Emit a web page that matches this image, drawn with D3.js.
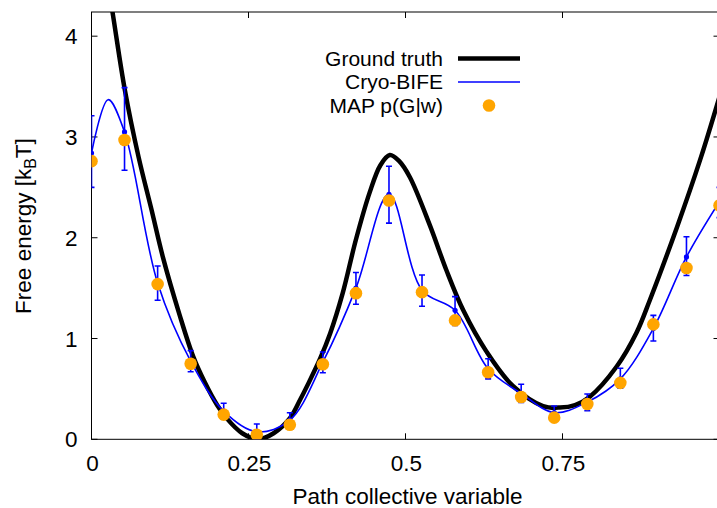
<!DOCTYPE html>
<html><head><meta charset="utf-8">
<script src="https://cdn.jsdelivr.net/npm/d3@7"></script>
<style>
body{margin:0;background:#fff;}
text{font-family:"Liberation Sans",Arial,Helvetica,sans-serif;}
</style></head>
<body><svg id="chart" width="717" height="508"></svg>
<script>
// ---- data ----
const cvX = [0, 0.0526, 0.1053, 0.1579, 0.2105, 0.2632, 0.3158, 0.3684, 0.4211, 0.4737,
             0.5263, 0.5789, 0.6316, 0.6842, 0.7368, 0.7895, 0.8421, 0.8947, 0.9474, 1.0];
const mapValues = [2.76, 2.97, 1.54, 0.75, 0.245, 0.045, 0.145, 0.745, 1.45, 2.37,
                   1.46, 1.18, 0.665, 0.42, 0.215, 0.35, 0.56, 1.14, 1.70, 2.32];
const bifeValues = [2.84, 3.05, 1.55, 0.775, 0.28, 0.075, 0.19, 0.765, 1.50, 2.43,
                    1.48, 1.28, 0.70, 0.455, 0.265, 0.37, 0.60, 1.10, 1.81, 2.36];
const bifeErrLow = [2.50, 2.67, 1.38, 0.67, 0.20, 0.0, 0.11, 0.66, 1.34, 2.145,
                    1.32, 1.13, 0.60, 0.365, 0.19, 0.284, 0.506, 0.976, 1.625, 2.20];
const bifeErrHigh = [3.21, 3.49, 1.72, 0.88, 0.357, 0.152, 0.264, 0.867, 1.655, 2.71,
                     1.63, 1.416, 0.80, 0.546, 0.33, 0.45, 0.705, 1.23, 2.01, 2.50];
// smooth Cryo-BIFE curve: the dots plus the overshoot peak
const bifeCurveX = [0, 0.0265, 0.0526, 0.1053, 0.1579, 0.2105, 0.2632, 0.3158, 0.3684, 0.4211, 0.4737,
                    0.5263, 0.5789, 0.6316, 0.6842, 0.7368, 0.7895, 0.8421, 0.8947, 0.9474, 1.0];
const bifeCurveY = [2.84, 3.37, 3.05, 1.55, 0.775, 0.28, 0.075, 0.19, 0.765, 1.50, 2.43,
                    1.48, 1.28, 0.70, 0.455, 0.265, 0.37, 0.60, 1.10, 1.81, 2.36];
const truthX = [0.02, 0.0334, 0.053, 0.075, 0.0955, 0.114, 0.14, 0.162, 0.18, 0.2, 0.215, 0.24, 0.265,
                0.29, 0.316, 0.332, 0.345, 0.364, 0.38, 0.40, 0.421, 0.443, 0.46, 0.475, 0.49, 0.507,
                0.539, 0.565, 0.592, 0.629, 0.671, 0.719, 0.746, 0.77, 0.793, 0.836, 0.868, 0.889,
                0.932, 0.969, 1.0];
const truthY = [4.75, 4.24, 3.47, 2.80, 2.28, 1.80, 1.24, 0.82, 0.57, 0.34, 0.21, 0.06, 0.0,
                0.06, 0.21, 0.39, 0.55, 0.80, 1.05, 1.45, 1.98, 2.45, 2.72, 2.82, 2.76, 2.60,
                2.12, 1.68, 1.28, 0.87, 0.53, 0.33, 0.315, 0.34, 0.42, 0.72, 1.06, 1.38,
                2.10, 2.77, 3.40];
const xTicks = [0, 0.25, 0.5, 0.75, 1];
const xTickLabels = ["0", "0.25", "0.5", "0.75", ""];
const yTicks = [0, 1, 2, 3, 4];
const legendLabels = ["Ground truth", "Cryo-BIFE", "MAP p(G|w)"];

// ---- layout ----
const svg = d3.select("#chart");
const L = 91.5, T = 12, R = 719.5, B = 439.3;
const x = d3.scaleLinear().domain([0, 1]).range([L, R]);
const y = d3.scaleLinear().domain([0, 4.24]).range([B, T]);
const FS = 22.5, LFS = 21;

svg.append("defs").append("clipPath").attr("id", "clip")
  .append("rect").attr("x", L).attr("y", T).attr("width", R - L).attr("height", B - T);

// ticks (inward, mirrored)
const tl = 6;
const g = svg.append("g");
xTicks.forEach((v, i) => {
  g.append("line").attr("x1", x(v)).attr("x2", x(v)).attr("y1", B).attr("y2", B - tl).attr("stroke", "#000").attr("stroke-width", 1);
  g.append("line").attr("x1", x(v)).attr("x2", x(v)).attr("y1", T).attr("y2", T + tl).attr("stroke", "#000").attr("stroke-width", 1);
  g.append("text").attr("x", x(v) + 1).attr("y", 471).attr("text-anchor", "middle")
    .attr("font-size", FS).text(xTickLabels[i]);
});
yTicks.forEach(v => {
  g.append("line").attr("x1", L).attr("x2", L + tl).attr("y1", y(v)).attr("y2", y(v)).attr("stroke", "#000");
  g.append("line").attr("x1", R).attr("x2", R - tl).attr("y1", y(v)).attr("y2", y(v)).attr("stroke", "#000");
  g.append("text").attr("x", 77.5).attr("y", y(v) + 8).attr("text-anchor", "end")
    .attr("font-size", FS).text(v);
});

// frame
svg.append("rect").attr("x", L).attr("y", T).attr("width", R - L).attr("height", B - T)
  .attr("fill", "none").attr("stroke", "#000").attr("stroke-width", 1);

// axis titles
svg.append("text").attr("x", 407.5).attr("y", 504).attr("text-anchor", "middle")
  .attr("font-size", FS).text("Path collective variable");
const yl = svg.append("text").attr("transform", "translate(30.5,226) rotate(-90)")
  .attr("text-anchor", "middle").attr("font-size", FS);
yl.append("tspan").text("Free energy [k");
yl.append("tspan").attr("font-size", 16).attr("dy", 5).text("B");
yl.append("tspan").attr("dy", -5).text("T]");

const plot = svg.append("g").attr("clip-path", "url(#clip)");

// ground truth
const truth = truthX.map((v, i) => [v, truthY[i]]);
plot.append("path").datum(truth)
  .attr("d", d3.line().x(d => x(d[0])).y(d => y(d[1])).curve(d3.curveCatmullRom.alpha(0.5)))
  .attr("fill", "none").attr("stroke", "#000").attr("stroke-width", 4.5);

// cryo-bife
const bife = bifeCurveX.map((v, i) => [v, bifeCurveY[i]]);
plot.append("path").datum(bife)
  .attr("d", d3.line().x(d => x(d[0])).y(d => y(d[1])).curve(d3.curveCatmullRom.alpha(0.5)))
  .attr("fill", "none").attr("stroke", "#0000ff").attr("stroke-width", 1.6);
cvX.forEach((v, i) => {
  const cx = x(v);
  plot.append("line").attr("x1", cx).attr("x2", cx).attr("y1", y(bifeErrLow[i])).attr("y2", y(bifeErrHigh[i]))
    .attr("stroke", "#0000ff").attr("stroke-width", 1.6);
  [bifeErrLow[i], bifeErrHigh[i]].forEach(e => {
    plot.append("line").attr("x1", cx - 3).attr("x2", cx + 3).attr("y1", y(e)).attr("y2", y(e))
      .attr("stroke", "#0000ff").attr("stroke-width", 1.6);
  });
  plot.append("circle").attr("cx", cx).attr("cy", y(bifeValues[i])).attr("r", 2.6).attr("fill", "#0000ff");
});

// MAP points
plot.selectAll("circle.map").data(cvX).enter().append("circle").attr("class", "map")
  .attr("cx", d => x(d)).attr("cy", (d, i) => y(mapValues[i])).attr("r", 6.3).attr("fill", "#ffa500");

// legend
const lg = svg.append("g");
const ly = [58.5, 82, 105.5];
legendLabels.forEach((t, i) => {
  lg.append("text").attr("x", 443).attr("y", ly[i] + 7.2).attr("text-anchor", "end")
    .attr("font-size", LFS).text(t);
});
lg.append("line").attr("x1", 458).attr("x2", 520).attr("y1", ly[0]).attr("y2", ly[0]).attr("stroke", "#000").attr("stroke-width", 4.5);
lg.append("line").attr("x1", 458).attr("x2", 520).attr("y1", ly[1]).attr("y2", ly[1]).attr("stroke", "#0000ff").attr("stroke-width", 1.6);
lg.append("circle").attr("cx", 489).attr("cy", ly[2]).attr("r", 6.3).attr("fill", "#ffa500");
</script></body></html>
